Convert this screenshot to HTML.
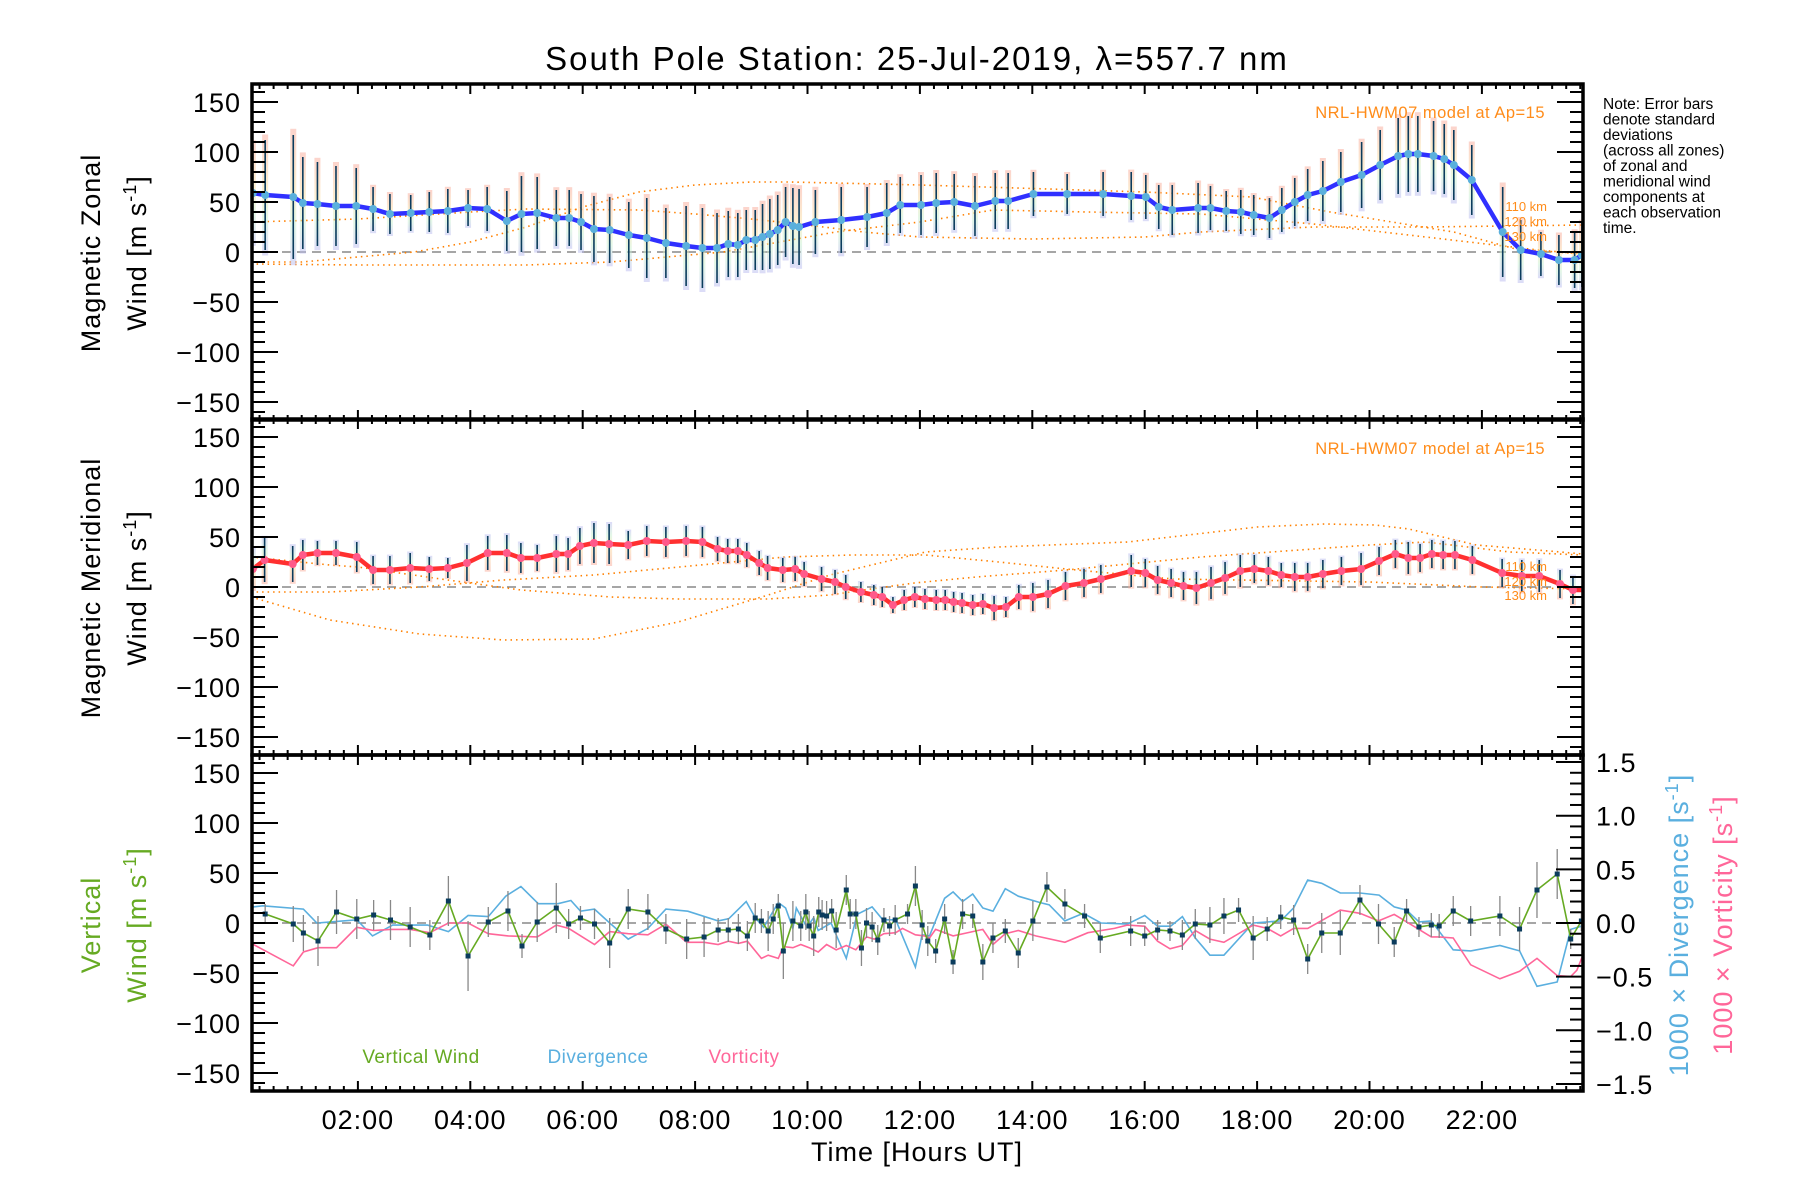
<!DOCTYPE html>
<html><head><meta charset="utf-8"><title>South Pole Station winds</title>
<style>
html,body{margin:0;padding:0;background:#fff;}
svg{display:block;font-family:"Liberation Sans",sans-serif;}
</style></head>
<body>
<svg id="chart" xmlns="http://www.w3.org/2000/svg" width="1800" height="1200" viewBox="0 0 1800 1200">
<rect x="0" y="0" width="1800" height="1200" fill="#fff"/>
<defs>
<linearGradient id="gz" x1="0" y1="0" x2="0" y2="1"><stop offset="0" stop-color="#f8a898"/><stop offset="0.45" stop-color="#f8e0a0"/><stop offset="0.7" stop-color="#c8f0d0"/><stop offset="1" stop-color="#b8b8f0"/></linearGradient>
<linearGradient id="gm" x1="0" y1="0" x2="0" y2="1"><stop offset="0" stop-color="#b8b8f0"/><stop offset="0.3" stop-color="#c8f0d0"/><stop offset="0.55" stop-color="#f8e0a0"/><stop offset="1" stop-color="#f8a898"/></linearGradient>
<clipPath id="c0"><rect x="252" y="84" width="1331" height="335"/></clipPath>
<clipPath id="c1"><rect x="252" y="419" width="1331" height="336"/></clipPath>
<clipPath id="c2"><rect x="252" y="755" width="1331" height="336"/></clipPath>
</defs>
<text x="917" y="70" font-size="33" letter-spacing="2" text-anchor="middle">South Pole Station: 25-Jul-2019, λ=557.7 nm</text>
<g id="layer"></g>
<g font-size="15.5">
<text x="1603" y="109">Note: Error bars</text>
<text x="1603" y="124.5">denote standard</text>
<text x="1603" y="140">deviations</text>
<text x="1603" y="155.5">(across all zones)</text>
<text x="1603" y="171">of zonal and</text>
<text x="1603" y="186.5">meridional wind</text>
<text x="1603" y="202">components at</text>
<text x="1603" y="217.5">each observation</text>
<text x="1603" y="233">time.</text>
</g>
<text x="1545" y="118" font-size="16.5" letter-spacing="0.5" fill="#ff8c1a" text-anchor="end">NRL-HWM07 model at Ap=15</text>
<text x="1545" y="454" font-size="16.5" letter-spacing="0.5" fill="#ff8c1a" text-anchor="end">NRL-HWM07 model at Ap=15</text>
<g font-size="13" fill="#ff8c1a" text-anchor="end">
<text x="1547" y="211">110 km</text><text x="1547" y="226">120 km</text><text x="1547" y="241">130 km</text></g>
<g font-size="13" fill="#ff8c1a" text-anchor="end">
<text x="1547" y="571">110 km</text><text x="1547" y="586">120 km</text><text x="1547" y="600">130 km</text></g>
<g font-size="27" letter-spacing="1" text-anchor="middle">
<text transform="translate(100,253) rotate(-90)">Magnetic Zonal</text>
<text transform="translate(146,253) rotate(-90)">Wind [m s<tspan font-size="18" dy="-10">-1</tspan><tspan dy="10">]</tspan></text>
<text transform="translate(100,588) rotate(-90)">Magnetic Meridional</text>
<text transform="translate(146,588) rotate(-90)">Wind [m s<tspan font-size="18" dy="-10">-1</tspan><tspan dy="10">]</tspan></text>
<text transform="translate(100,925) rotate(-90)" fill="#66aa22">Vertical</text>
<text transform="translate(146,925) rotate(-90)" fill="#66aa22">Wind [m s<tspan font-size="18" dy="-10">-1</tspan><tspan dy="10">]</tspan></text>
<text transform="translate(1688,925) rotate(-90)" fill="#5aafdf">1000 × Divergence [s<tspan font-size="18" dy="-10">-1</tspan><tspan dy="10">]</tspan></text>
<text transform="translate(1732,925) rotate(-90)" fill="#ff6699">1000 × Vorticity [s<tspan font-size="18" dy="-10">-1</tspan><tspan dy="10">]</tspan></text>
</g>
<text x="917" y="1161" font-size="27" letter-spacing="1" text-anchor="middle">Time [Hours UT]</text>
<text x="421" y="1063" font-size="19" letter-spacing="0.5" fill="#66aa22" text-anchor="middle">Vertical Wind</text>
<text x="598" y="1063" font-size="19" letter-spacing="0.5" fill="#5aafdf" text-anchor="middle">Divergence</text>
<text x="744" y="1063" font-size="19" letter-spacing="0.5" fill="#ff6699" text-anchor="middle">Vorticity</text>
</svg>
<script>
// ---- data ----
const tZ=[0.13,0.35,0.85,1.02,1.28,1.61,1.97,2.27,2.57,2.94,3.27,3.6,3.96,4.3,4.65,4.91,5.19,5.53,5.76,5.97,6.2,6.48,6.82,7.14,7.48,7.84,8.13,8.39,8.59,8.76,8.91,9.07,9.2,9.33,9.47,9.61,9.74,9.85,10.14,10.6,11.06,11.41,11.65,12.02,12.29,12.61,12.98,13.34,13.57,14.02,14.62,15.26,15.76,16.02,16.25,16.49,16.95,17.17,17.45,17.71,17.94,18.22,18.44,18.67,18.9,19.17,19.49,19.86,20.19,20.51,20.69,20.86,21.14,21.33,21.5,21.82,22.37,22.69,23.05,23.37,23.65,23.78];
const vZ=[59,57,55,49,48,46,46,43,38,39,40,41,44,43,31,38,39,34,34,30,23,22,17,14,9,6,4,4,8,7,12,12,15,18,22,30,26,25,30,32,35,39,47,47,49,50,46,51,51,58,58,58,56,55,45,42,44,44,41,40,37,34,42,50,57,61,70,77,87,96,98,98,96,93,87,72,20,2,-2,-8,-8,-3];
const eZ=[48,55,62,46,42,40,38,22,20,18,20,22,18,22,30,38,36,28,28,28,33,33,33,40,35,40,40,35,33,32,30,30,33,35,35,35,38,38,32,33,30,30,28,30,30,28,30,28,28,22,20,22,24,22,22,25,25,22,20,22,20,20,22,24,26,30,30,33,35,38,38,38,35,35,35,35,45,30,22,25,28,32];
const tM=[0.13,0.34,0.84,1.02,1.28,1.61,1.98,2.27,2.57,2.93,3.27,3.6,3.94,4.31,4.65,4.9,5.19,5.53,5.74,5.95,6.2,6.47,6.81,7.14,7.48,7.84,8.13,8.4,8.58,8.76,8.92,9.14,9.29,9.56,9.78,9.94,10.25,10.49,10.68,10.95,11.18,11.33,11.52,11.72,11.91,12.09,12.29,12.45,12.6,12.75,12.94,13.12,13.32,13.53,13.76,14.01,14.28,14.59,14.92,15.22,15.76,16.01,16.23,16.47,16.69,16.92,17.18,17.43,17.7,17.95,18.2,18.43,18.67,18.9,19.17,19.5,19.85,20.17,20.46,20.69,20.9,21.11,21.31,21.52,21.83,22.36,22.71,23.02,23.39,23.62,23.83];
const vM=[18,27,23,32,34,34,30,17,17,19,18,19,24,34,34,29,29,33,33,41,44,43,42,46,45,46,45,38,36,36,32,24,19,17,18,13,8,5,0,-5,-8,-10,-18,-13,-10,-12,-13,-13,-15,-16,-18,-17,-21,-20,-10,-10,-7,1,4,8,16,14,7,4,1,-1,4,9,16,18,16,12,10,10,13,16,18,26,33,29,29,33,32,32,27,14,11,11,3,-3,-3];
const eM=[20,22,18,15,12,12,15,14,14,15,12,10,18,17,18,15,13,18,16,18,20,20,14,15,15,15,15,12,12,12,12,12,12,12,12,12,12,12,12,10,10,10,8,10,10,10,10,10,10,10,10,10,12,10,12,14,14,14,14,14,16,14,14,14,14,16,16,16,16,14,14,12,14,14,14,14,16,14,14,16,14,14,14,14,14,14,16,16,14,14,14];
const tV=[0.35,0.85,1.03,1.29,1.62,1.98,2.28,2.58,2.93,3.28,3.61,3.96,4.32,4.67,4.92,5.19,5.53,5.75,5.96,6.21,6.48,6.81,7.16,7.48,7.85,8.16,8.41,8.59,8.77,8.93,9.07,9.18,9.3,9.39,9.48,9.57,9.74,9.88,9.97,10.03,10.11,10.2,10.26,10.34,10.43,10.51,10.69,10.76,10.86,10.96,11.05,11.15,11.25,11.36,11.46,11.56,11.78,11.92,12.04,12.14,12.28,12.44,12.59,12.76,12.94,13.12,13.3,13.52,13.75,14.01,14.26,14.58,14.93,15.21,15.75,16.0,16.23,16.45,16.67,16.9,17.16,17.41,17.67,17.93,18.18,18.42,18.65,18.9,19.15,19.48,19.83,20.16,20.44,20.66,20.88,21.1,21.24,21.49,21.8,22.32,22.67,22.98,23.34,23.58,23.77];
const vV=[9,-1,-10,-18,11,4,8,3,-4,-12,22,-33,1,12,-23,1,15,-1,5,-1,-20,14,11,-6,-16,-14,-7,-7,-6,-13,5,2,-8,4,17,-28,2,-3,11,-3,-13,11,8,7,12,-7,33,9,9,-25,0,-4,-17,3,-3,3,9,37,-2,-18,-28,4,-39,9,7,-39,-15,-8,-30,2,36,19,7,-15,-8,-13,-7,-8,-12,-1,-2,7,13,-15,-6,6,3,-36,-10,-10,23,-1,-19,12,-4,-2,-3,12,2,7,-6,33,49,-16,2];
const eV=[10,18,18,25,22,20,15,20,20,15,25,35,15,20,12,20,25,15,12,15,25,20,18,15,20,20,12,12,15,15,15,12,20,15,12,28,20,15,18,15,20,15,15,15,12,18,15,15,15,18,15,15,15,12,10,15,10,20,15,15,12,15,12,15,12,18,15,12,15,20,15,15,12,15,15,10,10,10,15,15,18,18,12,22,12,12,15,15,20,22,15,20,15,12,10,12,12,15,15,20,22,28,25,10,10];
const tD=[0.14,0.31,1.03,1.27,1.98,2.26,2.62,3.24,3.61,3.96,4.32,4.63,4.9,5.21,5.56,5.79,5.96,6.21,6.48,6.81,7.16,7.48,7.87,8.41,8.6,8.91,9.07,9.22,9.48,9.61,9.74,9.8,9.99,10.11,10.19,10.42,10.69,10.88,11.15,11.34,11.57,11.92,12.04,12.17,12.44,12.59,12.76,12.94,13.12,13.3,13.52,13.75,14.14,14.3,14.58,14.91,15.22,15.69,16.0,16.23,16.46,16.67,16.9,17.16,17.41,17.93,18.42,18.65,18.9,19.15,19.48,19.83,20.17,20.44,20.66,20.88,21.1,21.49,21.8,22.32,22.67,22.98,23.34,23.58,23.77];
const vD=[0.15,0.16,0.13,0,0.03,-0.12,-0.02,-0.02,-0.08,0.07,0.06,0.25,0.34,0.18,0.18,0.21,0.11,0.13,0,-0.15,-0.05,0.13,0.11,0.02,0.04,0.2,0.05,-0.04,0.19,0.14,-0.05,0.14,-0.04,0.05,-0.07,0,-0.33,0.08,0.15,0.03,0.03,-0.41,-0.11,-0.12,0.23,0.29,0.2,0.27,0.14,0.11,0.32,0.25,0.19,0.17,0.02,0.09,0,-0.01,0.07,-0.03,-0.03,0.06,-0.14,-0.3,-0.3,0,0.02,0.14,0.4,0.37,0.28,0.28,0.26,0.15,0.12,0.01,0.02,-0.25,-0.26,-0.21,-0.26,-0.59,-0.55,-0.06,-0.03];
const tR=[0.14,0.85,1.03,1.29,1.62,1.98,2.28,2.58,2.93,3.28,3.61,3.96,4.32,4.67,5.19,5.53,5.75,6.21,6.48,6.81,7.16,7.48,7.85,8.16,8.41,8.59,8.77,8.93,9.18,9.3,9.48,9.57,9.74,9.88,10.03,10.19,10.34,10.51,10.69,10.86,11.05,11.19,11.36,11.57,11.69,11.92,12.08,12.17,12.28,12.59,12.94,13.12,13.3,13.52,13.75,14.06,14.58,14.99,15.46,15.69,16.0,16.23,16.45,16.67,16.9,17.16,17.41,17.93,18.18,18.42,18.65,18.9,19.48,19.83,20.16,20.44,20.88,21.1,21.24,21.49,21.8,22.32,22.67,22.98,23.34,23.58,23.69,23.85];
const vR=[-0.2,-0.4,-0.27,-0.23,-0.23,-0.04,-0.07,-0.06,-0.06,-0.09,0,0,-0.1,-0.12,-0.13,-0.02,-0.05,-0.2,-0.08,-0.1,-0.11,-0.01,-0.18,-0.18,-0.2,-0.17,-0.19,-0.17,-0.33,-0.3,-0.33,-0.22,-0.23,-0.2,-0.23,-0.27,-0.2,-0.25,-0.21,-0.25,-0.13,-0.15,-0.1,-0.09,-0.05,-0.11,-0.12,-0.14,-0.06,-0.12,-0.08,-0.06,-0.2,-0.1,-0.07,-0.12,-0.18,-0.09,-0.05,-0.02,-0.03,-0.17,-0.24,-0.21,-0.07,-0.15,-0.18,-0.02,-0.05,-0.12,-0.05,-0.05,0.12,0.09,0.02,0.08,-0.06,-0.13,-0.13,-0.14,-0.39,-0.52,-0.45,-0.33,-0.49,-0.5,-0.44,-0.23];
// model curves (NRL-HWM07)
const mz1T=[0.1,1,3,4,5,6,7,8,9,9.7,12,16,17.9,19.3,21.5,22.6,23.8], mz1V=[-10,-10,0,10,25,45,60,67,70,70,67,60,55,40,20,3,-2];
const mz2T=[0.1,2,4,5,7,8,9,10,11,12,14,16,17,19,21,23.8], mz2V=[30,33,40,43,42,38,33,27,20,15,13,15,20,25,25,27];
const mz3T=[0.1,2,5,6.5,7.5,8.5,9.5,10.5,12,13.3,15,17,19,21,23,23.8], mz3V=[-12,-13,-13,-10,-5,0,10,20,30,42,40,38,28,15,2,-2];
const mm1T=[0.1,1.5,2,3.6,4.9,6.5,7.7,9.3,10.4,11,11.9,13,14.6,17,20,21,22.5,23.8], mm1V=[30,22,20,7,-3,-10,-12,-12,-8,-3,4,10,17,30,42,45,35,32];
const mm2T=[0.1,1.5,3.1,4.6,6.2,8.1,9.6,10.8,12.1,13.4,14.6,16.5,20,22,23.8], mm2V=[-5,-5,0,7,12,22,30,32,32,25,18,8,5,0,-2];
const mm3T=[0.1,1.5,3.1,4.6,6.2,7.7,9.3,10.4,12.1,13.4,15.7,18,19.2,20.1,20.7,21.9,23.4,23.8], mm3V=[-10,-33,-47,-53,-52,-35,-8,12,35,40,45,60,63,62,58,42,35,33];
const yTicks=[-150,-100,-50,0,50,100,150];
const rTicks=[-1.5,-1.0,-0.5,0.0,0.5,1.0,1.5];
const xTickHours=[2,4,6,8,10,12,14,16,18,20,22];

// ---- scales ----
const L=252,R=1583,TOPS=[84,419,755],PH=336;
function X(h){return 245.5+56.2*h;}
function Y(v,p){return TOPS[p]+168-v;}
function YR(d){return 923-d*107.3;}
const NS="http://www.w3.org/2000/svg";
const layer=document.getElementById('layer');
function el(tag,attrs,parent){const e=document.createElementNS(NS,tag);for(const k in attrs)e.setAttribute(k,attrs[k]);(parent||layer).appendChild(e);return e;}
function fmt(v){return (v<0?'\u2212':'')+Math.abs(v);}

for(let p=0;p<3;p++){
  const g=el('g',{'clip-path':'url(#c'+p+')'});
  
  
  const z=el('line',{x1:L,x2:R,y1:Y(0,p),y2:Y(0,p),stroke:'#888','stroke-width':1.5,'stroke-dasharray':'9 6'},g);
  
  
  layer['g'+p]=g;
}
function modelLine(T,V,p,name){
  const d=T.map((t,i)=>(i?'L':'M')+X(t).toFixed(1)+','+Y(V[i],p).toFixed(1)).join('');
  const e=el('path',{d:d,fill:'none',stroke:'#ff8000','stroke-width':1.6,'stroke-dasharray':'1.5 4'},layer['g'+p]);
  
  
}
modelLine(mz1T,mz1V,0,'model-zonal-110km');modelLine(mz2T,mz2V,0,'model-zonal-120km');modelLine(mz3T,mz3V,0,'model-zonal-130km');
modelLine(mm1T,mm1V,1,'model-meridional-110km');modelLine(mm2T,mm2V,1,'model-meridional-120km');modelLine(mm3T,mm3V,1,'model-meridional-130km');

function windSeries(T,V,E,p,grad,lineCol,dotCol,name){
  const g=layer['g'+p];
  T.forEach((t,i)=>{const e=E[i]||20;const x=X(t);
    const b=el('rect',{x:x-3,y:Y(V[i]+e*1.1,p),width:6,height:e*2.2,fill:'url(#'+grad+')',opacity:0.5},g);
    
    
  });
  T.forEach((t,i)=>{const e=E[i]||20;const x=X(t);
    const b=el('line',{x1:x,x2:x,y1:Y(V[i]+e,p),y2:Y(V[i]-e,p),stroke:'#0b3c5d','stroke-width':1.6},g);
    
    
  });
  const d=T.map((t,i)=>(i?'L':'M')+X(t).toFixed(1)+','+Y(V[i],p).toFixed(1)).join('');
  const ln=el('path',{d:d,fill:'none',stroke:lineCol,'stroke-width':4.5,'stroke-linejoin':'round'},g);
  
  
  T.forEach((t,i)=>{
    const c=el('circle',{cx:X(t),cy:Y(V[i],p),r:4,fill:dotCol},g);
    
    
  });
}
windSeries(tZ,vZ,eZ,0,'gz','#3030ff','#5ab0dc','zonal-wind');
windSeries(tM,vM,eM,1,'gm','#ff3030','#ff5a8a','meridional-wind');

// panel 3
(function(){
  const g=layer.g2;
  const dd=tD.map((t,i)=>(i?'L':'M')+X(t).toFixed(1)+','+YR(vD[i]).toFixed(1)).join('');
  const pd=el('path',{d:dd,fill:'none',stroke:'#5aafdf','stroke-width':1.6},g);
  
  
  const dr=tR.map((t,i)=>(i?'L':'M')+X(t).toFixed(1)+','+YR(vR[i]).toFixed(1)).join('');
  const pr=el('path',{d:dr,fill:'none',stroke:'#ff6699','stroke-width':1.6},g);
  
  
  tV.forEach((t,i)=>{const e=eV[i]||15;const x=X(t);
    const b=el('line',{x1:x,x2:x,y1:Y(vV[i]+e,2),y2:Y(vV[i]-e,2),stroke:'#888','stroke-width':1.3},g);
    
    
  });
  const dv=tV.map((t,i)=>(i?'L':'M')+X(t).toFixed(1)+','+Y(vV[i],2).toFixed(1)).join('');
  const pv=el('path',{d:dv,fill:'none',stroke:'#66aa22','stroke-width':1.6},g);
  
  
  tV.forEach((t,i)=>{
    const r=el('rect',{x:X(t)-2.5,y:Y(vV[i],2)-2.5,width:5,height:5,fill:'#0b3c5d'},g);
    
    
  });
})();

// axes
for(let p=0;p<3;p++){
  const top=TOPS[p],bot=top+PH;
  const ax=el('g',{stroke:'#000','stroke-width':2});
  
  
  for(let v=-160;v<=160;v+=10){const y=Y(v,p);const maj=v%50===0;const len=maj?26:13;
    el('line',{x1:L,x2:L+len,y1:y,y2:y},ax);
    if(p<2) el('line',{x1:R,x2:R-len,y1:y,y2:y},ax);
  }
  if(p===2){for(let k=-15;k<=15;k++){const y=YR(k/10);const len=(k%5===0)?27:13;el('line',{x1:R,x2:R-len,y1:y,y2:y},ax);}}
  for(let q=1;q<96;q++){const h=q/4;const x=X(h);if(x<=L+1||x>=R-1)continue;const len=(q%8===0)?10:5;
    el('line',{x1:x,x2:x,y1:top,y2:top+len},ax);el('line',{x1:x,x2:x,y1:bot,y2:bot-len},ax);}
  el('rect',{x:L,y:top,width:R-L,height:PH,fill:'none','stroke-width':3.5},ax);
  yTicks.forEach(v=>{const t=el('text',{x:241,y:Y(v,p)+10,'font-size':27,'letter-spacing':1,'text-anchor':'end'});t.textContent=fmt(v);
    
    });
}
rTicks.forEach(v=>{const t=el('text',{x:1596,y:YR(v)+10,'font-size':27,'letter-spacing':1});t.textContent=(v<0?'\u2212':'')+Math.abs(v).toFixed(1);
  
  });
xTickHours.forEach(h=>{const t=el('text',{x:X(h),y:1129,'font-size':27,'letter-spacing':1,'text-anchor':'middle'});t.textContent=(h<10?'0':'')+h+':00';
  
  });
</script>
</body></html>
